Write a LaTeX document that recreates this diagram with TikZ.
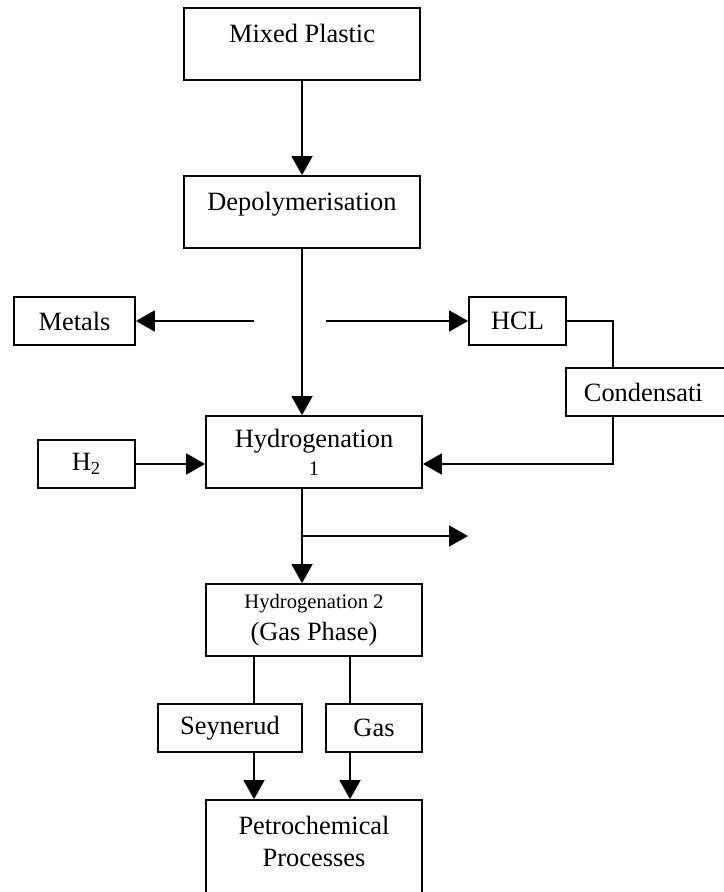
\documentclass[tikz,border=0pt]{standalone}
\usepackage{fontspec}
\setmainfont{Liberation Serif}
\usetikzlibrary{arrows.meta,positioning}
\tikzset{proc/.style={draw,minimum width=108pt,minimum height=36pt,align=center,inner sep=2pt}}
\tikzset{topbox/.style={draw,minimum width=118pt,inner ysep=0pt,text height=17.5pt,text depth=18.5pt}}
\tikzset{side/.style={draw,minimum height=24pt,inner sep=2pt}}
\tikzset{flow/.style={-{Triangle[length=9.5pt,width=10.5pt]}}}
\newcommand{\smtext}{\fontsize{10.3pt}{12pt}\selectfont}

\begin{document}
\begin{tikzpicture}[x=0.5pt,y=-0.5pt,line width=0.9pt,font=\fontsize{13.2pt}{16pt}\selectfont]
\useasboundingbox (0,0) rectangle (723,892);
% \draw[help lines] (0,0) grid (723,892);
\node (mixed) [topbox] at (302,44) {Mixed Plastic};
\node (depol) [topbox] at (302,212) {Depolymerisation};
\node (metals) [side,minimum width=60.5pt] at (74.5,321) {Metals};
\node (hcl) [side,minimum width=48.5pt] at (517.5,321) {HCL};
\node (cond) [side,anchor=west,text width=100pt,align=left,inner xsep=9pt] at (565,392) {Condensati};
\node (hyd1) [proc] at (314,452) {Hydrogenation\\[-2pt]{\smtext 1}};
\node (h2) [side,minimum width=48.5pt] at (86.5,464) {H\textsubscript{2}};
\node (hyd2) [proc] at (314,620) {{\smtext Hydrogenation 2}\\(Gas Phase)};
\node (seyn) [side,minimum width=72pt] at (230,728) {Seynerud};
\node (gas) [side,minimum width=48pt] at (374,728) {Gas};
\node (petro) [proc,minimum height=57pt] at (314,857) {Petrochemical\\Processes\\\mbox{}};
%
\coordinate (spine) at (302,0);
\coordinate (mL) at (254,321);
\coordinate (mR) at (326,321);
\coordinate (tap) at (613,0);
\coordinate (branch) at (302,536);
\coordinate (branchEnd) at (468,536);
\coordinate (sL) at (254,0);
\coordinate (sR) at (350,0);
%
\draw[flow] (mixed) -- (depol);
\draw[flow] (depol) -- (depol |- hyd1.north);
\draw[flow] (mL) -- (metals);
\draw[flow] (mR) -- (hcl);
\draw (hcl) -| (tap |- cond.north);
\draw[flow] (tap |- cond.south) |- (h2 -| hyd1.east);
\draw[flow] (h2) -- (h2 -| hyd1.west);
\draw[flow] (spine |- hyd1.south) -- (spine |- hyd2.north);
\draw[flow] (branch) -- (branchEnd);
\draw (sL |- hyd2.south) -- (sL |- seyn.north);
\draw (sR |- hyd2.south) -- (sR |- gas.north);
\draw[flow] (sL |- seyn.south) -- (sL |- petro.north);
\draw[flow] (sR |- gas.south) -- (sR |- petro.north);
\end{tikzpicture}
\end{document}
